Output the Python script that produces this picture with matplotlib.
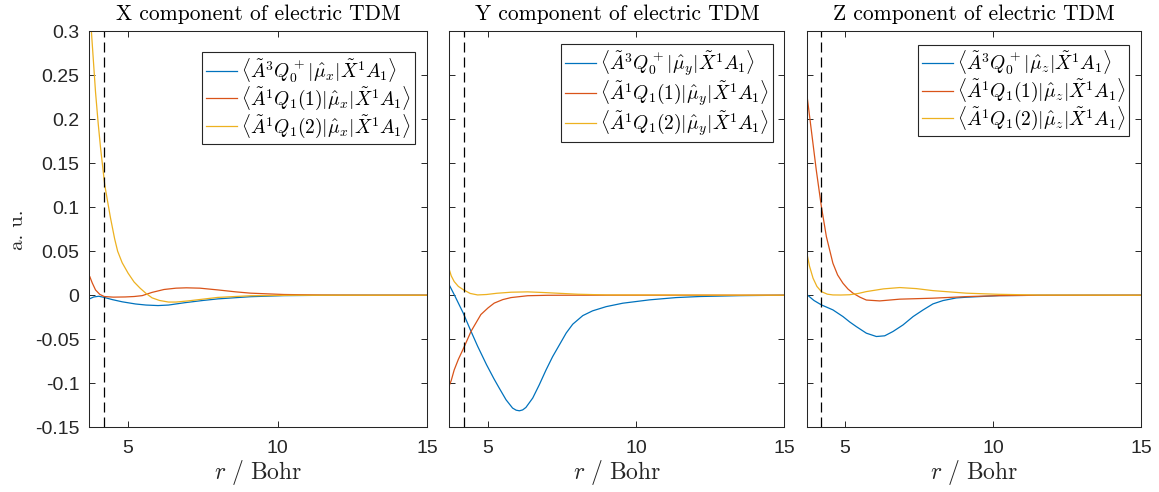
"""Electric TDM components vs r, three panels (X, Y, Z)."""
import matplotlib
matplotlib.use("Agg")
import matplotlib.pyplot as plt

plt.rcParams["mathtext.fontset"] = "cm"
plt.rcParams["font.family"] = ["Liberation Sans", "DejaVu Sans"]

# values (r in Bohr, a.u.)
r_x_blue = [3.72, 3.85, 4.02, 4.2, 4.47, 4.8, 5.25, 5.6, 6.0, 6.35, 6.9, 7.5, 8.0, 8.6, 9.1, 10.2, 11.5, 13, 15]
x_blue = [-0.004, -0.002, -0.0012, -0.0025, -0.005, -0.0075, -0.010, -0.0112, -0.0118, -0.0112,
          -0.0085, -0.006, -0.0042, -0.0028, -0.0017, -0.0005, -0.0001, 0, 0]
r_x_red = [3.72, 3.8, 3.91, 4.05, 4.2, 4.5, 4.9, 5.2, 5.47, 5.8, 6.2, 6.6, 6.95, 7.4, 8.0, 8.6, 9.1,
           10.2, 11.5, 13, 15]
x_red = [0.021, 0.014, 0.006, 0.001, -0.0015, -0.0022, -0.002, -0.0015, -0.0005, 0.0032, 0.0065,
         0.008, 0.0084, 0.008, 0.006, 0.0038, 0.0023, 0.0008, 0.0002, 0, 0]
r_x_yellow = [3.72, 3.78, 3.91, 4.0, 4.08, 4.22, 4.41, 4.55, 4.65, 4.8, 5.0, 5.2, 5.4, 5.6, 5.8,
              6.05, 6.35, 6.6, 7.0, 8.0, 9.1, 10.5, 12, 15]
x_yellow = [0.33, 0.296, 0.231, 0.195, 0.167, 0.125, 0.088, 0.064, 0.050, 0.037, 0.025, 0.015,
            0.008, 0.002, -0.003, -0.006, -0.0078, -0.0078, -0.0065, -0.0025, -0.0006, -0.0001, 0, 0]

r_y_blue = [3.68, 3.87, 4.16, 4.4, 4.65, 4.95, 5.2, 5.38, 5.61, 5.83, 5.95, 6.06, 6.17, 6.28, 6.51,
            6.73, 6.96, 7.18, 7.41, 7.64, 7.86, 8.2, 8.53, 8.99, 9.55, 10.45, 11.35, 12.14, 13.5, 15]
y_blue = [0.0125, 0.0, -0.020, -0.039, -0.058, -0.079, -0.095, -0.1057, -0.119, -0.1284, -0.1308,
          -0.1315, -0.1305, -0.1277, -0.117, -0.102, -0.085, -0.070, -0.0565, -0.043, -0.033,
          -0.0232, -0.0178, -0.013, -0.0091, -0.0053, -0.0027, -0.0015, -0.0005, 0]
r_y_red = [3.68, 3.76, 3.86, 4.0, 4.18, 4.43, 4.76, 5.0, 5.21, 5.5, 5.78, 6.34, 7, 8, 15]
y_red = [-0.104, -0.097, -0.085, -0.073, -0.060, -0.041, -0.022, -0.0145, -0.009, -0.005,
         -0.0027, -0.0006, -0.0001, 0, 0]
r_y_yellow = [3.68, 3.76, 3.86, 4.0, 4.18, 4.4, 4.65, 4.95, 5.3, 5.78, 6.34, 6.9, 7.5, 8.03, 9, 15]
y_yellow = [0.0307, 0.022, 0.0155, 0.010, 0.006, 0.002, 0.0003, 0.0008, 0.0022, 0.0034, 0.0038,
            0.003, 0.002, 0.0011, 0.0003, 0]

r_z_blue = [3.70, 3.95, 4.2, 4.59, 4.93, 5.16, 5.38, 5.72, 6.06, 6.34, 6.62, 6.96, 7.3, 7.64, 7.97,
            8.31, 8.76, 9.1, 10.2, 11.5, 15]
z_blue = [0.001, -0.006, -0.011, -0.0167, -0.0243, -0.0305, -0.0357, -0.0432, -0.047, -0.0462,
          -0.0413, -0.0338, -0.0243, -0.0167, -0.0099, -0.0061, -0.0031, -0.0023, -0.0005,
          -0.0001, 0]
r_z_red = [3.70, 3.86, 4.03, 4.2, 4.37, 4.59, 4.75, 4.93, 5.1, 5.27, 5.5, 5.72, 6.17, 6.85, 7.97,
           9.1, 10.2, 11.5, 15]
z_red = [0.2314, 0.188, 0.142, 0.101, 0.0666, 0.0364, 0.023, 0.0136, 0.007, 0.0023, -0.0022,
         -0.0055, -0.0065, -0.0045, -0.0034, -0.0016, -0.0005, -0.0001, 0]
r_z_yellow = [3.70, 3.8, 3.92, 4.05, 4.2, 4.4, 4.59, 4.85, 5.15, 5.45, 5.72, 6.3, 6.85, 7.41, 7.97,
              9.1, 10.2, 11.5, 15]
z_yellow = [0.0495, 0.033, 0.0193, 0.010, 0.0041, 0.0012, 0.0003, 0.0002, 0.0005, 0.002, 0.0041,
            0.0072, 0.0087, 0.0075, 0.0052, 0.0023, 0.001, 0.0002, 0]

r_cut = 4.2
titles = ["X component of electric TDM", "Y component of electric TDM", "Z component of electric TDM"]
comps = ["x", "y", "z"]
yticks = [-0.15, -0.1, -0.05, 0, 0.05, 0.1, 0.15, 0.2, 0.25, 0.3]
ytick_labels = ["-0.15", "-0.1", "-0.05", "0", "0.05", "0.1", "0.15", "0.2", "0.25", "0.3"]
xticks = [5, 10, 15]

panels = [
    [(r_x_blue, x_blue), (r_x_red, x_red), (r_x_yellow, x_yellow)],
    [(r_y_blue, y_blue), (r_y_red, y_red), (r_y_yellow, y_yellow)],
    [(r_z_blue, z_blue), (r_z_red, z_red), (r_z_yellow, z_yellow)],
]
colors = ["#0072BD", "#D95319", "#EDB120"]
frame = "#262626"

fig = plt.figure(figsize=(11.59, 4.92), dpi=100)
rects = [[0.077, 0.132, 0.2916, 0.804],
         [0.3878, 0.132, 0.2889, 0.804],
         [0.6959, 0.132, 0.2886, 0.804]]
legend_anchor = [(0.9636, 0.9477), (0.967, 0.9687), (0.965, 0.967)]

for i, (rect, series) in enumerate(zip(rects, panels)):
    ax = fig.add_axes(rect)
    c = comps[i]
    labels = [
        r"$\langle\tilde{A}^3Q_0^+|\hat{\mu}_%s|\tilde{X}^1A_1\rangle$" % c,
        r"$\langle\tilde{A}^1Q_1(1)|\hat{\mu}_%s|\tilde{X}^1A_1\rangle$" % c,
        r"$\langle\tilde{A}^1Q_1(2)|\hat{\mu}_%s|\tilde{X}^1A_1\rangle$" % c,
    ]
    for (r, v), col, lab in zip(series, colors, labels):
        ax.plot(r, v, color=col, lw=0.9, label=lab)
    ax.axvline(r_cut, color="black", lw=0.9, ls=(0, (8, 4)))

    ax.set_xlim(3.7, 15)
    ax.set_ylim(-0.15, 0.3)
    ax.set_xticks(xticks)
    ax.set_yticks(yticks)
    if i == 0:
        ax.set_yticklabels(ytick_labels)
        ax.set_ylabel("a. u.", family="cmr10", fontsize=15, labelpad=6, color=frame)
    else:
        ax.set_yticklabels([])
    ax.tick_params(direction="in", top=True, right=True, length=4, width=0.7,
                   color=frame, labelcolor=frame, labelsize=14)
    ax.tick_params(axis="x", pad=9)
    ax.tick_params(axis="y", pad=7)
    for s in ax.spines.values():
        s.set_color(frame)
        s.set_linewidth(0.75)

    ax.set_xlabel(r"$r\ /\ \mathrm{Bohr}$", fontsize=17, labelpad=1, color=frame)
    ax.set_title(titles[i], family="cmr10", fontsize=15.5, pad=8)

    leg = ax.legend(loc="upper right", bbox_to_anchor=legend_anchor[i], fontsize=14,
                    fancybox=False, framealpha=1, edgecolor="#262626",
                    handlelength=1.6, handletextpad=0.2, borderpad=0.2,
                    labelspacing=0.0, borderaxespad=0)
    leg.get_frame().set_linewidth(0.8)

fig.savefig("out.png", dpi=100)
